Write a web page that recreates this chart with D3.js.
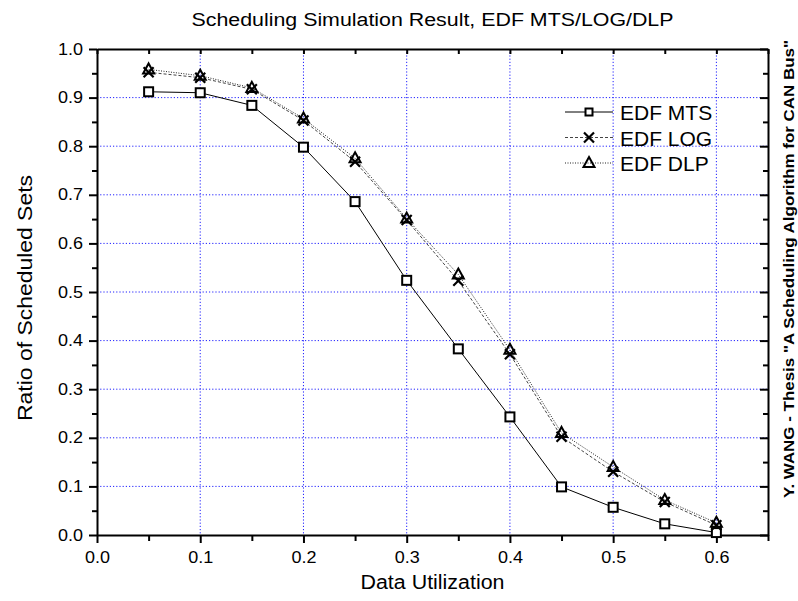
<!DOCTYPE html>
<html>
<head>
<meta charset="utf-8">
<script src="https://cdnjs.cloudflare.com/ajax/libs/d3/7.8.5/d3.min.js"></script>
<style>
  body { margin: 0; background: #fff; }
  text { font-family: Arial, "Liberation Sans", sans-serif; fill: #000; }
</style>
</head>
<body>
<div id="chart"></div>
<script>
// data
var utilization = [0.05, 0.10, 0.15, 0.20, 0.25, 0.30, 0.35, 0.40, 0.45, 0.50, 0.55, 0.60];
var mts = [0.912, 0.910, 0.884, 0.798, 0.686, 0.524, 0.383, 0.243, 0.099, 0.057, 0.023, 0.005];
var log = [0.952, 0.941, 0.917, 0.853, 0.768, 0.648, 0.523, 0.372, 0.202, 0.130, 0.068, 0.020];
var dlp = [0.958, 0.945, 0.920, 0.857, 0.775, 0.651, 0.536, 0.381, 0.210, 0.140, 0.072, 0.025];
var seriesNames = ["EDF MTS", "EDF LOG", "EDF DLP"];
var xTicks = [0.0, 0.1, 0.2, 0.3, 0.4, 0.5, 0.6];
var yTicks = [0.0, 0.1, 0.2, 0.3, 0.4, 0.5, 0.6, 0.7, 0.8, 0.9, 1.0];

var width = 798, height = 601;
var margin = {top: 49, right: 30, bottom: 66, left: 97};
var innerW = width - margin.left - margin.right,  // 671
    innerH = height - margin.top - margin.bottom; // 486

var svg = d3.select("#chart").append("svg")
    .attr("width", width)
    .attr("height", height);

var x = d3.scaleLinear().domain([0, 0.65]).range([0, innerW]);
var y = d3.scaleLinear().domain([0, 1.0]).range([innerH, 0]);

var g = svg.append("g")
    .attr("transform", "translate(" + margin.left + "," + margin.top + ")");

// blue dotted grid
g.append("g").selectAll("line")
    .data(xTicks.filter(function(d) { return d > 0; }))
    .enter().append("line")
    .attr("x1", function(d) { return x(d); })
    .attr("x2", function(d) { return x(d); })
    .attr("y1", 0).attr("y2", innerH)
    .style("stroke", "#2020ff")
    .style("stroke-width", 1)
    .style("stroke-dasharray", "1.2,2");

g.append("g").selectAll("line")
    .data(yTicks.filter(function(d) { return d > 0 && d < 1; }))
    .enter().append("line")
    .attr("x1", 0).attr("x2", innerW)
    .attr("y1", function(d) { return y(d); })
    .attr("y2", function(d) { return y(d); })
    .style("stroke", "#2020ff")
    .style("stroke-width", 1)
    .style("stroke-dasharray", "1.2,2");

var fmt = d3.format(".1f");
var minorX = d3.range(0.05, 0.66, 0.1);
var minorY = d3.range(0.05, 1.0, 0.1);

function styleAxis(sel) {
    sel.select(".domain").style("stroke", "#000").style("stroke-width", 2);
    sel.selectAll(".tick line").style("stroke", "#000").style("stroke-width", 2);
    sel.selectAll("text")
        .style("font-size", "16px")
        .style("font-family", "Arial, 'Liberation Sans', sans-serif")
        .attr("textLength", 25)
        .attr("lengthAdjust", "spacingAndGlyphs");
}

// bottom axis
var xAxisG = g.append("g")
    .attr("transform", "translate(0," + innerH + ")")
    .call(d3.axisBottom(x).tickValues(xTicks).tickFormat(fmt).tickSizeInner(8).tickSizeOuter(0).tickPadding(9));
styleAxis(xAxisG);
g.append("g")
    .attr("transform", "translate(0," + innerH + ")")
    .call(d3.axisBottom(x).tickValues(minorX).tickFormat("").tickSizeInner(6).tickSizeOuter(0))
    .call(function(s) { s.select(".domain").remove(); s.selectAll("line").style("stroke", "#000").style("stroke-width", 2); });

// left axis
var yAxisG = g.append("g")
    .call(d3.axisLeft(y).tickValues(yTicks).tickFormat(fmt).tickSizeInner(8).tickSizeOuter(0).tickPadding(6));
styleAxis(yAxisG);
g.append("g")
    .call(d3.axisLeft(y).tickValues(minorY).tickFormat("").tickSizeInner(5).tickSizeOuter(0))
    .call(function(s) { s.select(".domain").remove(); s.selectAll("line").style("stroke", "#000").style("stroke-width", 2); });

// top axis, ticks inward
var topG = g.append("g")
    .call(d3.axisTop(x).tickValues(xTicks.concat(minorX)).tickFormat("").tickSizeInner(-5).tickSizeOuter(0));
styleAxis(topG);

// right axis, ticks inward
var rightG = g.append("g")
    .attr("transform", "translate(" + innerW + ",0)")
    .call(d3.axisRight(y).tickValues(yTicks).tickFormat("").tickSizeInner(-8).tickSizeOuter(0));
styleAxis(rightG);
g.append("g")
    .attr("transform", "translate(" + innerW + ",0)")
    .call(d3.axisRight(y).tickValues(minorY).tickFormat("").tickSizeInner(-5).tickSizeOuter(0))
    .call(function(s) { s.select(".domain").remove(); s.selectAll("line").style("stroke", "#000").style("stroke-width", 2); });

// series
var series = [
    {name: seriesNames[0], values: mts, dash: null, color: "#000", marker: "square"},
    {name: seriesNames[1], values: log, dash: "3,2", color: "#444", marker: "cross"},
    {name: seriesNames[2], values: dlp, dash: "1,1.5", color: "#222", marker: "triangle"}
];

var line = d3.line()
    .x(function(d, i) { return x(utilization[i]); })
    .y(function(d) { return y(d); });

function drawMarker(sel, type, cx, cy) {
    if (type === "square") {
        sel.append("rect")
            .attr("x", cx - 4.5).attr("y", cy - 4.5)
            .attr("width", 9).attr("height", 9)
            .style("fill", "#fff").style("stroke", "#000").style("stroke-width", 2);
    } else if (type === "cross") {
        sel.append("path")
            .attr("d", "M" + (cx - 5) + "," + (cy - 5) + "L" + (cx + 5) + "," + (cy + 5) +
                       "M" + (cx - 5) + "," + (cy + 5) + "L" + (cx + 5) + "," + (cy - 5))
            .style("fill", "none").style("stroke", "#000").style("stroke-width", 2.2);
    } else {
        sel.append("path")
            .attr("d", "M" + cx + "," + (cy - 6) + "L" + (cx + 5.5) + "," + (cy + 4) + "L" + (cx - 5.5) + "," + (cy + 4) + "Z")
            .style("fill", "none").style("stroke", "#000").style("stroke-width", 2);
    }
}

series.forEach(function(s) {
    g.append("path")
        .datum(s.values)
        .attr("d", line)
        .style("fill", "none")
        .style("stroke", s.color)
        .style("stroke-width", 1)
        .style("stroke-dasharray", s.dash);
});

series.forEach(function(s) {
    var mg = g.append("g");
    s.values.forEach(function(v, i) {
        drawMarker(mg, s.marker, x(utilization[i]), y(v));
    });
});

// legend
var legend = svg.append("g").attr("transform", "translate(565,112)");
series.forEach(function(s, i) {
    var row = legend.append("g").attr("transform", "translate(0," + (i * 25.5) + ")");
    row.append("line")
        .attr("x1", 0).attr("x2", 48).attr("y1", 0).attr("y2", 0)
        .style("stroke", s.color)
        .style("stroke-width", 1)
        .style("stroke-dasharray", s.dash);
    if (s.marker === "square") {
        row.append("rect").attr("x", 20.5).attr("y", -3.5).attr("width", 7).attr("height", 7)
            .style("fill", "#fff").style("stroke", "#000").style("stroke-width", 2);
    } else {
        drawMarker(row, s.marker, 24, 0);
    }
    row.append("text")
        .attr("x", 55).attr("y", 8)
        .style("font-size", "21px")
        .text(s.name);
});

// titles
svg.append("text")
    .attr("x", margin.left + innerW / 2)
    .attr("y", 26)
    .attr("text-anchor", "middle")
    .attr("textLength", 482)
    .attr("lengthAdjust", "spacingAndGlyphs")
    .style("font-size", "18px")
    .text("Scheduling Simulation Result, EDF MTS/LOG/DLP");

svg.append("text")
    .attr("x", margin.left + innerW / 2)
    .attr("y", 589)
    .attr("text-anchor", "middle")
    .attr("textLength", 144)
    .attr("lengthAdjust", "spacingAndGlyphs")
    .style("font-size", "20px")
    .text("Data Utilization");

svg.append("text")
    .attr("transform", "translate(32,298) rotate(-90)")
    .attr("text-anchor", "middle")
    .attr("textLength", 246)
    .attr("lengthAdjust", "spacingAndGlyphs")
    .style("font-size", "21px")
    .text("Ratio of Scheduled Sets");

svg.append("text")
    .attr("transform", "translate(794,498) rotate(-90)")
    .attr("text-anchor", "start")
    .attr("textLength", 458)
    .attr("lengthAdjust", "spacingAndGlyphs")
    .style("font-size", "15px")
    .style("font-weight", "bold")
    .text("Y. WANG - Thesis \"A Scheduling Algorithm for CAN Bus\"");
</script>
</body>
</html>
